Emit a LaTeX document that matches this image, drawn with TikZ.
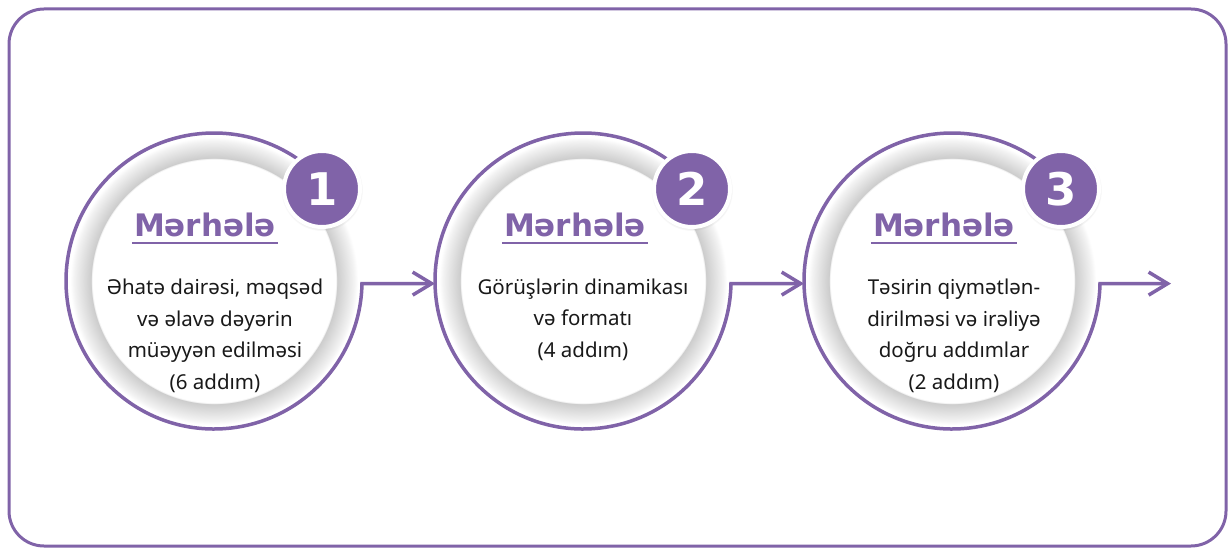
\documentclass[tikz,border=0pt]{standalone}
\usepackage{fontspec}
\setmainfont{Noto Sans}
\newfontfamily\boldface{DejaVu Sans Bold}
\usetikzlibrary{arrows.meta,shadows}
\definecolor{mpurple}{RGB}{128,99,168}
\pgfdeclareradialshading{ringshade}{\pgfpoint{0bp}{0bp}}{color(0bp)=(white); color(20.6bp)=(white); color(20.75bp)=(black!20); color(23.6bp)=(black!5); color(24.3bp)=(white); color(50bp)=(white)}
\tikzset{
  ringnode/.style={circle, minimum size=296pt, inner sep=0pt, outer sep=0pt, shading=ringshade},
  ringline/.style={draw=mpurple, line width=3.5pt, line join=miter},
  flowarrow/.style={-{Straight Barb[length=19pt,width=23pt]}},
  badge/.style={circle, fill=mpurple, draw=white, line width=4pt, minimum size=76pt, inner sep=0pt,
     text=white, font=\boldface\fontsize{45}{45}\selectfont,
     circular drop shadow={shadow xshift=0pt, shadow yshift=-1pt, shadow scale=1.08, opacity=0.3}},
  title/.style={anchor=base, inner sep=0pt, text=mpurple, font=\boldface\fontsize{31}{31}\selectfont},
  uline/.style={draw=mpurple, line width=1.6pt},
  body/.style={anchor=base, inner sep=0pt, align=center, text=black!90, font=\fontsize{20.5}{31.5}\selectfont}
}
\begin{document}
\begin{tikzpicture}[x=1pt,y=1pt]
\useasboundingbox (0,0) rectangle (1228,547);
\draw[mpurple, line width=3pt, rounded corners=35pt] (9,1) rectangle (1226,538);

\node[ringnode] (c1) at (214,266) {};
\node[ringnode] (c2) at (583,266) {};
\node[ringnode] (c3) at (952,266) {};
\coordinate (end) at (1171,263.4);

\draw[ringline, flowarrow] (c1.50) arc[start angle=50, end angle=359, radius=148pt] -- (c2.181);
\draw[ringline, flowarrow] (c2.50) arc[start angle=50, end angle=359, radius=148pt] -- (c3.181);
\draw[ringline, flowarrow] (c3.50) arc[start angle=50, end angle=359, radius=148pt] -- (end);

\node[badge] (b1) at (322,358) {1};
\node[badge] (b2) at (692,358) {2};
\node[badge] (b3) at (1061,358) {3};

\node[title] (t1) at (205,311) {Mərhələ};
\node[title] (t2) at (575,311) {Mərhələ};
\node[title] (t3) at (944,311) {Mərhələ};
\draw[uline] ([xshift=-2pt,yshift=-7pt]t1.base west) -- ([xshift=2pt,yshift=-7pt]t1.base east);
\draw[uline] ([xshift=-2pt,yshift=-7pt]t2.base west) -- ([xshift=2pt,yshift=-7pt]t2.base east);
\draw[uline] ([xshift=-2pt,yshift=-7pt]t3.base west) -- ([xshift=2pt,yshift=-7pt]t3.base east);

\node[body] (d1) at (215,158) {Əhatə dairəsi, məqsəd\\və əlavə dəyərin\\müəyyən edilməsi\\(6 addım)};
\node[body] (d2) at (583,190) {Görüşlərin dinamikası\\və formatı\\(4 addım)};
\node[body] (d3) at (954,158) {Təsirin qiymətlən-\\dirilməsi və irəliyə\\doğru addımlar\\(2 addım)};
\end{tikzpicture}
\end{document}
